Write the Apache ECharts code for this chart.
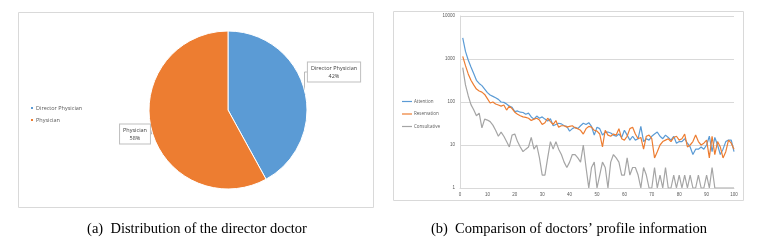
<!DOCTYPE html>
<html>
<head>
<meta charset="utf-8">
<script src="https://cdn.jsdelivr.net/npm/echarts@6/dist/echarts.min.js"></script>
<style>
html,body{margin:0;padding:0;background:#fff;}
#c{width:764px;height:249px;}
</style>
</head>
<body>
<div id="c"></div>
<script>
// ---- Data ----
var pieNames = ['Director Physician', 'Physician'];
var pieValues = [42, 58];

var seriesNames = ['Attention', 'Reservation', 'Consultative'];
var attention = [3100,1500,950,650,460,320,270,240,200,165,145,135,125,115,100,98,90,80,75,60,
  62,58,57,52,55,45,40,47,42,45,40,36,41,28,30,32,31,28,27,21,
  24,26,24,28,32,30,33,27,17,26,24,17,20,20,19,17,16,18,15,22,
  17,13,16,13,14,27,12,14,13,16,18,20,16,14,17,15,13,16,11,12,
  12,14,11,9,6,8,8,9,8,10,16,7,15,10,6,8,12,13,13,7];
var reservation = [1150,700,450,320,250,200,180,170,150,120,95,100,90,85,80,85,65,80,70,58,
  52,48,45,44,42,37,40,42,38,30,33,42,35,30,37,26,28,28,26,27,
  28,25,24,22,18,24,27,26,22,21,18,9,22,17,16,18,17,24,14,13,
  16,24,26,18,14,15,8,16,17,14,5,7,10,12,13,14,12,15,16,13,
  14,18,9,10,12,17,12,10,11,13,5,16,6,12,9,5,7,13,11,8];
var consultative = [630,250,140,87,66,48,55,25,40,38,35,29,22,16,20,16,12,9,17,18,
  12,9,7,8,9,15,8,10,5,2,2,5,12,8,12,8,6,4,3,4,
  6,6,5,4,10,3,1,3,4,1,2,4,3,1,4,6,5,4,2,2,
  5,2,3,3,2,1,3,2,1,1,3,1,2,1,3,1,1,2,1,2,
  1,2,1,2,1,1,2,1,1,2,1,3,1,1,1,1,1,1,1,1];
var xTicks = [0,10,20,30,40,50,60,70,80,90,100];
var yTicks = [1,10,100,1000,10000];
var captions = ['(a)  Distribution of the director doctor', '(b)  Comparison of doctors\u2019 profile information'];

function pairs(arr){ return arr.map(function(v,i){ return [i+1, v]; }); }

var colors = ['#5B9BD5', '#ED7D31', '#A5A5A5'];
var chart = echarts.init(document.getElementById('c'), null, {renderer:'canvas'});

var option = {
  animation: false,
  graphic: [
    {type:'rect', shape:{x:18.5, y:12.5, width:355, height:195}, style:{fill:'none', stroke:'#d9d9d9', lineWidth:1}},
    {type:'rect', shape:{x:393.5, y:11.5, width:350, height:189}, style:{fill:'none', stroke:'#d9d9d9', lineWidth:1}},
    {type:'text', x:197, y:222, style:{text:captions[0], font:'14.5px "Liberation Serif", serif', fill:'#000', textAlign:'center'}},
    {type:'text', x:569, y:222, style:{text:captions[1], font:'14.5px "Liberation Serif", serif', fill:'#000', textAlign:'center'}}
  ],
  legend: [
    {
      data: pieNames, orient:'vertical', left:24, top:100, itemWidth:4, itemHeight:4, itemGap:6,
      icon:'rect', textStyle:{fontSize:5.5, color:'#595959', fontFamily:'"Open Sans", sans-serif', padding:[0,0,0,-3]},
      selectedMode:false
    },
    {
      data: seriesNames, orient:'vertical', left:397, top:94, itemWidth:10, itemHeight:1.2, itemGap:7.5,
      icon:'rect', textStyle:{fontSize:4.5, color:'#595959', fontFamily:'"Open Sans", sans-serif', padding:[0,0,0,-3]},
      selectedMode:false
    }
  ],
  grid: {left:460, right:30, top:16, bottom:61, containLabel:false},
  xAxis: {
    type:'value', min:0, max:100, interval:10,
    axisLine:{show:true, lineStyle:{color:'#d9d9d9'}},
    axisTick:{show:false}, splitLine:{show:false},
    axisLabel:{fontSize:4.5, color:'#595959', margin:4, formatter:function(v){ return xTicks.indexOf(v)>=0 ? String(v) : ''; }}
  },
  yAxis: {
    type:'log', logBase:10, min:1, max:10000,
    axisLine:{show:true, lineStyle:{color:'#d9d9d9'}},
    axisTick:{show:false},
    splitLine:{show:true, lineStyle:{color:'#d9d9d9', width:1}},
    axisLabel:{fontSize:4.5, color:'#595959', margin:5, formatter:function(v){ return yTicks.indexOf(Math.round(v))>=0 ? String(Math.round(v)) : ''; }}
  },
  series: [
    {
      name:'pie', type:'pie', center:[228,110], radius:79, startAngle:90, clockwise:true,
      data: pieNames.map(function(n,i){ return {name:n, value:pieValues[i], itemStyle:{color:colors[i]}}; }),
      itemStyle:{borderColor:'#fff', borderWidth:1},
      label:{
        show:true, formatter:'{b}\n{d}%', fontSize:5.5, lineHeight:8, color:'#404040',
        fontFamily:'"Open Sans", sans-serif',
        backgroundColor:'#fff', borderColor:'#bfbfbf', borderWidth:1, padding:[2,3,1,3], align:'center'
      },
      labelLine:{show:true, length:6, length2:4, lineStyle:{color:'#a6a6a6', width:0.8}},
      labelLayout:function(p){
        if(p.dataIndex===0) return {x:334, y:72, align:'center', verticalAlign:'middle'};
        return {x:135, y:134, align:'center', verticalAlign:'middle'};
      },
      emphasis:{disabled:true}
    },
    {name:seriesNames[0], type:'line', data:pairs(attention), showSymbol:false, lineStyle:{width:1.2, color:colors[0]}, itemStyle:{color:colors[0]}},
    {name:seriesNames[1], type:'line', data:pairs(reservation), showSymbol:false, lineStyle:{width:1.2, color:colors[1]}, itemStyle:{color:colors[1]}},
    {name:seriesNames[2], type:'line', data:pairs(consultative), showSymbol:false, lineStyle:{width:1.2, color:colors[2]}, itemStyle:{color:colors[2]}}
  ]
};
chart.setOption(option);
</script>
</body>
</html>
